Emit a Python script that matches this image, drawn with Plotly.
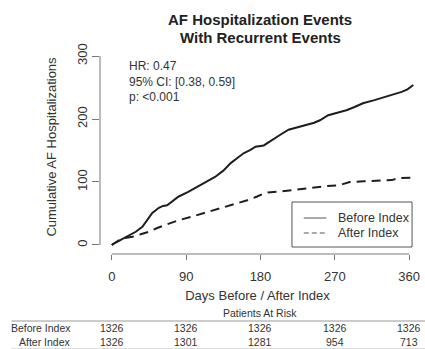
import plotly.graph_objects as go

# ---- data ----
before_days = [0, 2, 8, 15, 25, 29, 37, 45, 49, 57, 62, 67, 74, 81, 92, 105, 115, 125, 135, 144,
               152, 160, 168, 174, 184, 194, 204, 214, 230, 245, 252, 262, 273, 284, 294, 304,
               318, 331, 343, 351, 358, 365]
before_vals = [0, 2, 6, 11, 18, 21, 29, 43, 51, 59, 62, 63, 70, 77, 84, 93, 100, 108, 118, 130,
               138, 146, 151, 156, 158, 167, 175, 183, 189, 194, 198, 206, 210, 214, 219, 225,
               230, 235, 239, 243, 247, 254]

after_days = [0, 3, 8, 15, 25, 35, 45, 55, 65, 80, 97, 110, 125, 140, 153, 164, 176, 186, 204,
              224, 240, 256, 276, 288, 305, 323, 339, 347, 365]
after_vals = [0, 3, 7, 11, 13, 17, 21, 27, 32, 39, 45, 50, 56, 61, 66, 71, 77, 83, 85,
              88, 91, 93, 95, 100, 101, 102, 103, 106, 107]

series_names = ["Before Index", "After Index"]
x_ticks = [0, 90, 180, 270, 360]
y_ticks = [0, 100, 200, 300]
risk_before = [1326, 1326, 1326, 1326, 1326]
risk_after = [1326, 1301, 1281, 954, 713]

stats_lines = ["HR: 0.47", "95% CI: [0.38, 0.59]", "p: <0.001"]

# ---- layout geometry ----
W, H = 425, 349
L, R, T, B = 100, 5, 40, 95
plot_w = W - L - R
plot_h = H - T - B


def py(sy):
    """screen pixel y -> paper y"""
    return (H - B - sy) / plot_h


def px(sx):
    """screen pixel x -> paper x"""
    return (sx - L) / plot_w


FONT = "Liberation Sans, Arial, sans-serif"
TXT = "#333333"
LINE = "#1e1e1e"
DASH = "9px,6px"

fig = go.Figure()
fig.add_trace(go.Scatter(x=before_days, y=before_vals, mode="lines", name=series_names[0],
                         line=dict(color=LINE, width=2, dash="solid")))
fig.add_trace(go.Scatter(x=after_days, y=after_vals, mode="lines", name=series_names[1],
                         line=dict(color=LINE, width=2, dash=DASH)))

fig.update_layout(
    width=W, height=H,
    margin=dict(l=L, r=R, t=T, b=B),
    paper_bgcolor="white", plot_bgcolor="white",
    font=dict(family=FONT, color=TXT, size=12),
    showlegend=False,
    xaxis=dict(range=[-14.3, 367.1], tickvals=x_ticks, ticktext=[str(v) for v in x_ticks],
               ticks="outside", ticklen=5, tickcolor="#777777", showgrid=False,
               zeroline=False, showline=False, tickfont=dict(size=13, color=TXT),
               ticklabelstandoff=5,
               title=dict(text="Days Before / After Index", font=dict(size=13, color=TXT), standoff=8)),
    yaxis=dict(range=[-14.3, 325.4], tickvals=y_ticks, ticktext=[str(v) for v in y_ticks],
               ticks="outside", ticklen=7, tickcolor="#777777", showgrid=False,
               zeroline=False, showline=False, tickangle=-90, tickfont=dict(size=13, color=TXT),
               title=dict(text="Cumulative AF Hospitalizations", font=dict(size=13, color=TXT),
                          standoff=15)),
)

# R-style detached axis lines spanning first to last tick
fig.add_shape(type="line", xref="x", yref="paper", x0=x_ticks[0], x1=x_ticks[-1], y0=0, y1=0,
              line=dict(color="#777777", width=1))
fig.add_shape(type="line", xref="paper", yref="y", x0=0, x1=0, y0=y_ticks[0], y1=y_ticks[-1],
              line=dict(color="#777777", width=1))

# Title
for txt, sy in [("<b>AF Hospitalization Events</b>", 20), ("<b>With Recurrent Events</b>", 37)]:
    fig.add_annotation(text=txt, xref="paper", yref="paper", x=px(263), y=py(sy),
                       showarrow=False, font=dict(size=15, color="#222222"),
                       xanchor="center", yanchor="middle")

# Stats text
for i, s in enumerate(stats_lines):
    fig.add_annotation(text=s, xref="paper", yref="paper", x=px(127),
                       y=py(66 + i * 15.5), showarrow=False, xanchor="left", yanchor="middle",
                       font=dict(size=12, color=TXT))

# Legend (R style box)
fig.add_shape(type="rect", xref="paper", yref="paper", x0=px(295), x1=px(417),
              y0=py(247), y1=py(202), line=dict(color="#555555", width=1), fillcolor="white",
              layer="above")
for name, dash, sy in [(series_names[0], "solid", 218), (series_names[1], "5px,3px", 233)]:
    fig.add_shape(type="line", xref="paper", yref="paper", x0=px(307), x1=px(330),
                  y0=py(sy), y1=py(sy), line=dict(color="#555555", width=1, dash=dash),
                  layer="above")
    fig.add_annotation(text=name, xref="paper", yref="paper", x=px(340), y=py(sy),
                       showarrow=False, xanchor="left", yanchor="middle",
                       font=dict(size=12.5, color=TXT))

# Patients at risk table
fig.add_annotation(text="Patients At Risk", xref="paper", yref="paper",
                   x=px(263), y=py(313), showarrow=False,
                   xanchor="center", yanchor="middle", font=dict(size=10.5, color=TXT))
fig.add_shape(type="line", xref="paper", yref="paper", x0=px(10), x1=1.05,
              y0=py(321), y1=py(321), line=dict(color="#bbbbbb", width=1.5))
fig.add_shape(type="line", xref="paper", yref="paper", x0=px(10), x1=1.05,
              y0=py(348.5), y1=py(348.5), line=dict(color="#dddddd", width=1))

for label, row, sy in [(series_names[0], risk_before, 328), (series_names[1], risk_after, 342)]:
    fig.add_annotation(text=label, xref="paper", yref="paper", x=px(73),
                       y=py(sy), showarrow=False, xanchor="right", yanchor="middle",
                       font=dict(size=10.5, color=TXT))
    for d, v in zip(x_ticks, row):
        fig.add_annotation(text=str(v), xref="x", yref="paper", x=d, y=py(sy),
                           showarrow=False, xanchor="center", yanchor="middle",
                           font=dict(size=10.5, color=TXT))

fig.write_html(
    "out.html",
    config={"displayModeBar": False},
    post_script="document.body.style.margin='0';document.body.style.overflow='hidden';",
)
